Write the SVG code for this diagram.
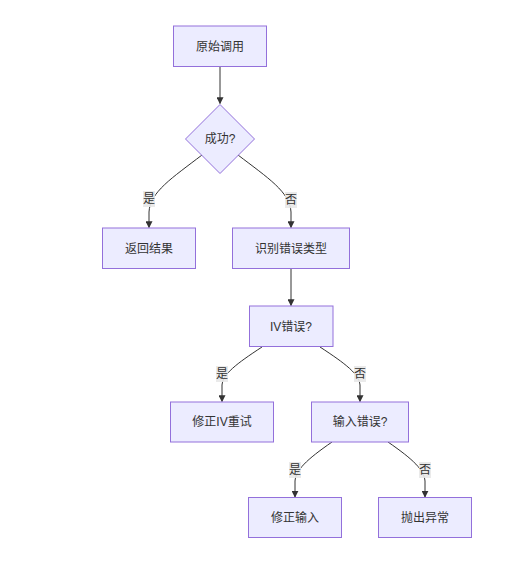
<svg xmlns="http://www.w3.org/2000/svg" width="529" height="571" viewBox="0 0 529 571">
<style>
.node rect,.node polygon{fill:#ECECFF;stroke:#9370DB;stroke-width:1}
text{font-family:"Liberation Sans","Noto Sans CJK SC",sans-serif;font-size:12px;fill:#333;text-anchor:middle;dominant-baseline:central}
.edge{fill:none;stroke:#333;stroke-width:1}
.lbl{fill:#e8e8e8;opacity:0.9}
</style>
<defs>
<marker id="arr" viewBox="0 0 10 10" refX="9" refY="5" markerWidth="7" markerHeight="7" markerUnits="userSpaceOnUse" orient="auto">
<path d="M0,0 L10,5 L0,10 z" fill="#333"/>
</marker>
</defs>
<rect width="529" height="571" fill="#fff"/>
<g id="connectors">
<path class="edge" d="M220,67 L220,103.5" marker-end="url(#arr)"/>
<path class="edge" d="M202,155 C172,178 150,192 149,212 L149,227.5" marker-end="url(#arr)"/>
<path class="edge" d="M238,155 C268,178 290,192 291,212 L291,227.5" marker-end="url(#arr)"/>
<path class="edge" d="M291,268.5 L291,305.5" marker-end="url(#arr)"/>
<path class="edge" d="M262,347 C236,364 223,374 222,385 L222,401.5" marker-end="url(#arr)"/>
<path class="edge" d="M320,347 C346,364 359,374 360,385 L360,401.5" marker-end="url(#arr)"/>
<path class="edge" d="M332,442 C306,460 296,470 295,481 L295,497" marker-end="url(#arr)"/>
<path class="edge" d="M388,442 C414,460 424,470 425,481 L425,497" marker-end="url(#arr)"/>
<rect class="lbl" x="143" y="191" width="12" height="16"/>
<text x="149" y="199">是</text>
<rect class="lbl" x="285" y="192" width="12" height="16"/>
<text x="291" y="200">否</text>
<rect class="lbl" x="216" y="366" width="12" height="16"/>
<text x="222" y="374">是</text>
<rect class="lbl" x="354" y="366" width="12" height="16"/>
<text x="360" y="374">否</text>
<rect class="lbl" x="289" y="462" width="12" height="16"/>
<text x="295" y="470">是</text>
<rect class="lbl" x="419" y="462" width="12" height="16"/>
<text x="425" y="470">否</text>
</g>
<g id="n1" class="node"><rect x="173.5" y="26" width="93" height="40.5"/><text x="220" y="46.5">原始调用</text></g>
<g id="n2" class="node"><polygon points="220,104.5 254.5,139 220,173.5 185.5,139"/><text x="220" y="139">成功?</text></g>
<g id="n3" class="node"><rect x="102.5" y="228" width="93" height="40.5"/><text x="149" y="248.5">返回结果</text></g>
<g id="n4" class="node"><rect x="232.5" y="228" width="117" height="40.5"/><text x="291" y="248.5">识别错误类型</text></g>
<g id="n5" class="node"><rect x="249.5" y="306" width="83.5" height="40.5"/><text x="291" y="326.5">IV错误?</text></g>
<g id="n6" class="node"><rect x="170.5" y="402" width="103" height="40"/><text x="222" y="422">修正IV重试</text></g>
<g id="n7" class="node"><rect x="311.5" y="402" width="97" height="40"/><text x="360" y="422">输入错误?</text></g>
<g id="n8" class="node"><rect x="248.5" y="497.5" width="93" height="40"/><text x="295" y="517.5">修正输入</text></g>
<g id="n9" class="node"><rect x="378.5" y="497.5" width="93" height="40"/><text x="425" y="517.5">抛出异常</text></g>
</svg>
